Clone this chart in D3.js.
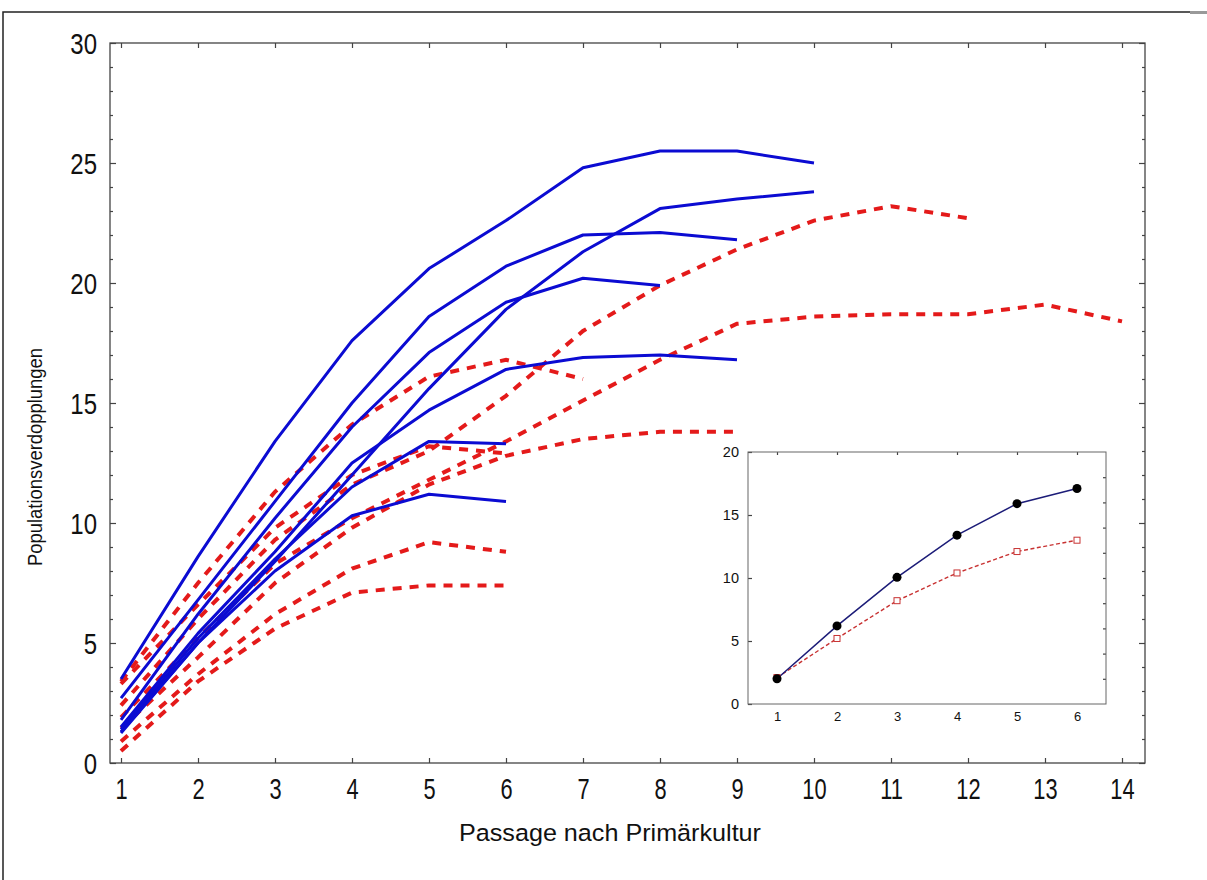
<!DOCTYPE html>
<html><head><meta charset="utf-8">
<script src="https://cdn.jsdelivr.net/npm/d3@7"></script>
<style>body{margin:0;background:#fff} svg{display:block;font-family:"Liberation Sans",Arial,sans-serif}</style>
</head><body><svg id="c" width="1207" height="880"></svg>
<script>
// ---- data ----
const passages = [1,2,3,4,5,6,7,8,9,10,11,12,13,14];
const yTicks = [0,5,10,15,20,25,30];
const xLabel = "Passage nach Primärkultur";
const yLabel = "Populationsverdopplungen";

// blue solid series (values at passage 1..n)
const blueA = [3.5, 8.6, 13.4, 17.6, 20.6, 22.6, 24.8, 25.5, 25.5, 25.0];
const blueB = [1.3, 5.0, 8.4, 12.0, 15.6, 18.9, 21.3, 23.1, 23.5, 23.8];
const blueC = [2.7, 6.8, 10.9, 15.0, 18.6, 20.7, 22.0, 22.1, 21.8];
const blueD = [1.8, 6.2, 10.2, 14.0, 17.1, 19.2, 20.2, 19.9];
const blueE = [1.5, 5.4, 8.8, 12.5, 14.7, 16.4, 16.9, 17.0, 16.8];
const blueF = [1.4, 5.2, 8.5, 11.5, 13.4, 13.3];
const blueG = [1.25, 5.0, 8.0, 10.3, 11.2, 10.9];

// red dashed series
const redA = [2.4, 6.0, 9.3, 11.6, 13.0, 15.3, 18.0, 19.9, 21.4, 22.6, 23.2, 22.7];
const redB = [1.9, 5.2, 8.3, 10.2, 11.8, 13.4, 15.1, 16.8, 18.3, 18.6, 18.7, 18.7, 19.1, 18.4];
const redC = [3.4, 7.5, 11.3, 14.1, 16.1, 16.8, 16.0];
const redD = [1.45, 4.4, 7.5, 9.8, 11.6, 12.8, 13.5, 13.8, 13.8];
const redE = [3.3, 6.6, 9.8, 12.0, 13.2, 12.9];
const redF = [0.9, 3.7, 6.2, 8.1, 9.2, 8.8];
const redG = [0.5, 3.4, 5.6, 7.1, 7.4, 7.4];

// inset
const insetX = [1,2,3,4,5,6];
const insetYTicks = [0,5,10,15,20];
const insetBlue = [2.0, 6.2, 10.05, 13.4, 15.9, 17.1];
const insetRed = [2.1, 5.2, 8.2, 10.4, 12.1, 13.0];

const blueSeries = [blueA, blueB, blueC, blueD, blueE, blueF, blueG];
const redSeries = [redA, redB, redC, redD, redE, redF, redG];

// ---- drawing ----
const svg = d3.select("#c");
const X0 = 110, X1 = 1145, Y0 = 43, Y1 = 763;
const x = d3.scaleLinear().domain([1,14]).range([121,1122]);
const y = d3.scaleLinear().domain([0,30]).range([Y1,Y0]);

// outer frame
svg.append("rect").attr("x",3).attr("y",12).attr("width",1240).attr("height",900)
  .attr("fill","none").attr("stroke","#222").attr("stroke-width",1.5);
svg.append("rect").attr("x",1190).attr("y",11).attr("width",17).attr("height",3).attr("fill","#999");

function styleAxis(g){ g.select(".domain").remove(); g.selectAll("line").attr("stroke","#444").attr("stroke-width",1.2); }

const minorY = d3.range(0,31).filter(v => v%5!==0);
// left
svg.append("g").attr("transform",`translate(${X0},0)`)
  .call(d3.axisLeft(y).tickValues(yTicks).tickSizeInner(-6).tickSizeOuter(0).tickPadding(13))
  .call(styleAxis)
  .call(g => g.selectAll("text").attr("font-size",24).attr("fill","#111")
      .attr("font-family","Liberation Sans, Arial, sans-serif")
      .attr("transform","scale(1,1.25)").attr("y",0).attr("dy","0.36em"));
svg.append("g").attr("transform",`translate(${X0},0)`)
  .call(d3.axisLeft(y).tickValues(minorY).tickSizeInner(-3).tickSizeOuter(0).tickFormat(""))
  .call(styleAxis);
// right
svg.append("g").attr("transform",`translate(${X1},0)`)
  .call(d3.axisRight(y).tickValues(yTicks).tickSizeInner(-6).tickSizeOuter(0).tickFormat(""))
  .call(styleAxis);
svg.append("g").attr("transform",`translate(${X1},0)`)
  .call(d3.axisRight(y).tickValues(minorY).tickSizeInner(-3).tickSizeOuter(0).tickFormat(""))
  .call(styleAxis);
// bottom
svg.append("g").attr("transform",`translate(0,${Y1})`)
  .call(d3.axisBottom(x).tickValues(passages).tickSizeInner(-5).tickSizeOuter(0).tickPadding(0).tickFormat(d3.format("d")))
  .call(styleAxis)
  .call(g => g.selectAll("text").attr("font-size",23).attr("fill","#111")
      .attr("font-family","Liberation Sans, Arial, sans-serif")
      .attr("y",0).attr("dy",0).attr("transform","translate(0,36) scale(0.95,1.3)"));
// top
svg.append("g").attr("transform",`translate(0,${Y0})`)
  .call(d3.axisTop(x).tickValues(passages).tickSizeInner(-5).tickSizeOuter(0).tickFormat(""))
  .call(styleAxis);

// frame
svg.append("rect").attr("x",X0).attr("y",Y0).attr("width",X1-X0).attr("height",Y1-Y0)
  .attr("fill","none").attr("stroke","#444").attr("stroke-width",1.3);

// lines
const line = d3.line().x((d,i)=>x(passages[i])).y(d=>y(d));
svg.append("g").selectAll("path").data(redSeries).join("path")
  .attr("d",line).attr("fill","none").attr("stroke","#e41a1a").attr("stroke-width",4)
  .attr("stroke-dasharray","9,8");
svg.append("g").selectAll("path").data(blueSeries).join("path")
  .attr("d",line).attr("fill","none").attr("stroke","#0b0bd2").attr("stroke-width",3)
  .attr("stroke-linejoin","round");

// axis titles
svg.append("text").attr("x",610).attr("y",0).attr("text-anchor","middle")
  .attr("font-size",21).attr("fill","#111")
  .attr("transform","translate(0,841) scale(1,1.18)")
  .attr("textLength",302).attr("lengthAdjust","spacingAndGlyphs").text(xLabel);
svg.append("text").attr("text-anchor","middle").attr("font-size",21).attr("fill","#111")
  .attr("transform","translate(42,457) rotate(-90)")
  .attr("textLength",218).attr("lengthAdjust","spacingAndGlyphs").text(yLabel);

// ---- inset ----
const IX0 = 748, IX1 = 1106, IY0 = 452, IY1 = 704;
const ix = d3.scaleLinear().domain([1,6]).range([777,1077]);
const iy = d3.scaleLinear().domain([0,20]).range([IY1,IY0]);
const inset = svg.append("g");
inset.append("rect").attr("x",IX0).attr("y",IY0).attr("width",IX1-IX0).attr("height",IY1-IY0)
  .attr("fill","#fff").attr("stroke","none");
const iminor = d3.range(2,20,2);
inset.append("g").attr("transform",`translate(${IX0},0)`)
  .call(d3.axisLeft(iy).tickValues(insetYTicks).tickSizeInner(-4).tickSizeOuter(0).tickPadding(9))
  .call(styleAxis)
  .call(g => g.selectAll("text").attr("font-size",14.5).attr("fill","#111").attr("font-family","Liberation Sans, Arial, sans-serif"));
inset.append("g").attr("transform",`translate(${IX1},0)`)
  .call(d3.axisRight(iy).tickValues(iminor).tickSizeInner(-3).tickSizeOuter(0).tickFormat(""))
  .call(styleAxis);
inset.append("g").attr("transform",`translate(0,${IY1})`)
  .call(d3.axisBottom(ix).tickValues(insetX).tickSizeInner(0).tickSizeOuter(0).tickPadding(8).tickFormat(d3.format("d")))
  .call(styleAxis)
  .call(g => g.selectAll("text").attr("font-size",13).attr("fill","#111").attr("font-family","Liberation Sans, Arial, sans-serif"));
inset.append("g").attr("transform",`translate(0,${IY0})`)
  .call(d3.axisTop(ix).tickValues(insetX).tickSizeInner(-3).tickSizeOuter(0).tickFormat(""))
  .call(styleAxis);
inset.append("rect").attr("x",IX0).attr("y",IY0).attr("width",IX1-IX0).attr("height",IY1-IY0)
  .attr("fill","none").attr("stroke","#666").attr("stroke-width",1);

const iline = d3.line().x((d,i)=>ix(insetX[i])).y(d=>iy(d));
inset.append("path").datum(insetRed).attr("d",iline).attr("fill","none")
  .attr("stroke","#c83232").attr("stroke-width",1.4).attr("stroke-dasharray","4,2.5");
inset.append("path").datum(insetBlue).attr("d",iline).attr("fill","none")
  .attr("stroke","#1c1c78").attr("stroke-width",1.5);
inset.append("g").selectAll("rect").data(insetRed).join("rect")
  .attr("x",(d,i)=>ix(insetX[i])-3).attr("y",d=>iy(d)-3).attr("width",6).attr("height",6)
  .attr("fill","#fff").attr("stroke","#c83232").attr("stroke-width",1);
inset.append("g").selectAll("circle").data(insetBlue).join("circle")
  .attr("cx",(d,i)=>ix(insetX[i])).attr("cy",d=>iy(d)).attr("r",4.5).attr("fill","#000");
</script></body></html>
